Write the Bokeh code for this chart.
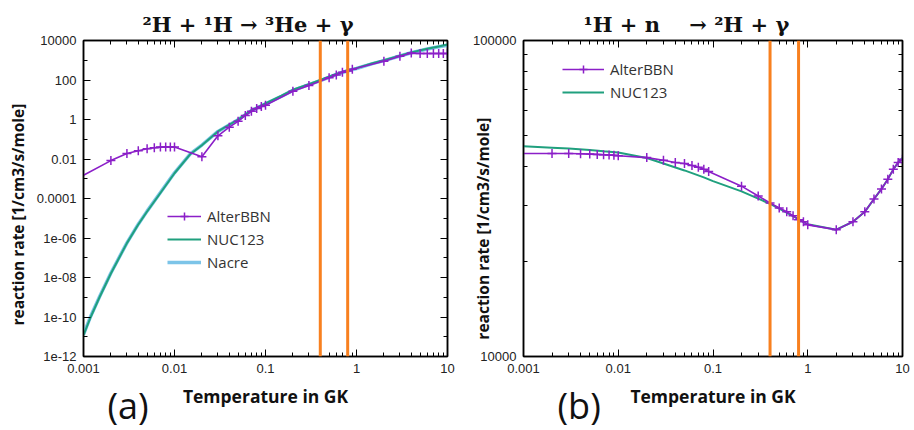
import numpy as np
from bokeh.plotting import figure
from bokeh.models import (LogAxis, FixedTicker, CustomJSTickFormatter, Span, Title,
                          Legend, LegendItem, Range1d)
from bokeh.layouts import row
from bokeh.embed import file_html
from bokeh.resources import INLINE

# ---------------- panel (a): 2H + 1H -> 3He + gamma ----------------
a_T_curve = [0.001, 0.0012, 0.0015, 0.002, 0.003, 0.004, 0.005, 0.007, 0.01, 0.015,
             0.02, 0.03, 0.05, 0.07, 0.1, 0.15, 0.2, 0.3, 0.4, 0.6, 0.8, 1.0, 1.5,
             2.0, 3.0, 4.0, 6.0, 8.0, 10.0]
a_nuc123 = [1.2e-11, 1.0e-10, 1.0e-9, 1.6e-8, 5.5e-7, 4.8e-6, 2.2e-5, 1.9e-4, 1.9e-3, 1.8e-2,
            5.0e-2, 0.25, 1.0, 2.9, 6.5, 16, 32, 62, 100, 200, 310, 400, 700,
            1000, 1700, 2500, 3800, 5000, 6200]
a_nacre = [1.3e-11, 1.1e-10, 1.05e-9, 1.7e-8, 5.7e-7, 5.0e-6, 2.3e-5, 2.0e-4, 2.0e-3, 1.85e-2,
           5.1e-2, 0.25, 0.98, 2.8, 6.2, 15, 30, 58, 94, 190, 295, 380, 670,
           960, 1650, 2400, 3700, 4800, 5800]
a_T_alter = [0.001, 0.002, 0.003, 0.004, 0.005, 0.006, 0.007, 0.008, 0.009, 0.01,
             0.02, 0.03, 0.04, 0.05, 0.06, 0.07, 0.08, 0.09, 0.1, 0.2, 0.3, 0.5,
             0.6, 0.7, 0.8, 0.9, 2.0, 3.0, 4.0, 5.0, 6.0, 7.0, 8.0, 9.0, 10.0]
a_alter = [0.0015, 0.0083, 0.019, 0.026, 0.033, 0.037, 0.040, 0.041, 0.041, 0.041,
           0.013, 0.15, 0.41, 0.81, 1.6, 2.6, 3.6, 4.6, 5.3, 27, 52, 130,
           180, 250, 285, 350, 890, 1580, 2300, 2200, 2200, 2200, 2200, 2200, 2200]

# ---------------- panel (b): 1H + n -> 2H + gamma ----------------
b_T_nuc = [0.001, 0.002, 0.003, 0.005, 0.007, 0.01, 0.02, 0.03, 0.05, 0.08, 0.1, 0.2,
           0.3, 0.4, 0.5, 0.7, 1.0, 2.0, 3.0, 4.0, 5.0, 6.0, 7.0, 8.0, 9.0, 10.0]
b_nuc123 = [46300, 45800, 45500, 45000, 44600, 44200, 42500, 40800, 38800, 36900, 35900, 33300,
            31600, 30400, 29400, 27800, 26200, 25200, 26700, 28700, 31500, 33900, 36400,
            39100, 41100, 42500]
b_T_alter = [0.001, 0.002, 0.003, 0.004, 0.005, 0.006, 0.007, 0.008, 0.009, 0.01,
             0.02, 0.03, 0.04, 0.05, 0.06, 0.07, 0.08, 0.09, 0.2, 0.3, 0.4, 0.5,
             0.6, 0.7, 0.8, 0.9, 1.0, 2.0, 3.0, 4.0, 5.0, 6.0, 7.0, 8.0, 9.0, 10.0]
b_alter = [43900, 43900, 43900, 43800, 43700, 43600, 43500, 43400, 43300, 43200,
           42600, 41800, 41100, 40800, 40200, 39700, 39100, 38500, 34600, 32200, 30600, 29500,
           28700, 27900, 27100, 26700, 26100, 25200, 26700, 28700, 31500, 33900, 36400,
           39100, 41100, 42100]

marker_T = [0.4, 0.8]

x_ticks = [0.001, 0.01, 0.1, 1, 10]
x_tick_labels = ["0.001", "0.01", "0.1", "1", "10"]
a_y_ticks = [1e-12, 1e-10, 1e-8, 1e-6, 1e-4, 1e-2, 1, 100, 1e4]
a_y_tick_labels = ["1e-12", "1e-10", "1e-08", "1e-06", "0.0001", "0.01", "1", "100", "10000"]
b_y_ticks = [1e4, 1e5]
b_y_tick_labels = ["10000", "100000"]

x_minor = [m * 10.0 ** e for e in range(-3, 1) for m in range(2, 10)]
a_y_minor = [10.0 ** e for e in range(-11, 4, 2)]
b_y_minor = [m * 1e4 for m in range(2, 10)]

PURPLE = "#8b1fc8"
GREEN = "#20a07e"
BLUE = "#7cc4e8"
ORANGE = "#f8801f"
NBSP = "\u00a0"


def fmt(ticks, labels):
    return CustomJSTickFormatter(args=dict(vals=ticks, labs=labels), code="""
let best = 0, bd = Infinity;
for (let i = 0; i < vals.length; i++) {
  const d = Math.abs(Math.log10(vals[i]) - Math.log10(tick));
  if (d < bd) { bd = d; best = i; }
}
return labs[best];
""")


def style_axis(ax, ticks, minor, labels):
    ax.ticker = FixedTicker(ticks=ticks, minor_ticks=minor)
    if labels is None:
        ax.formatter = CustomJSTickFormatter(code="return '';")
        ax.major_label_text_font_size = "0px"
        ax.major_label_standoff = 0
    else:
        ax.formatter = fmt(ticks, labels)
        ax.major_label_text_font_size = "13px"
        ax.major_label_standoff = 7
    ax.major_tick_in = 7
    ax.major_tick_out = 0
    ax.minor_tick_in = 4
    ax.minor_tick_out = 0
    ax.axis_line_color = "black"
    ax.axis_line_width = 1.5
    ax.major_tick_line_color = "black"
    ax.minor_tick_line_color = "black"
    ax.major_label_text_font = "Liberation Sans"
    ax.major_label_text_color = "#222222"


def label_axis(ax, text, standoff, size):
    ax.axis_label = text
    ax.axis_label_text_font = "Open Sans"
    ax.axis_label_text_font_style = "bold"
    ax.axis_label_text_color = "#111111"
    ax.axis_label_standoff = standoff
    ax.axis_label_text_font_size = size


def make_fig(width, yr, yt, ym, ytl, borders, title, title_off, panel, panel_off,
             ylabel, ylabel_standoff):
    left, right, top, bottom = borders
    p = figure(width=width, height=430, x_axis_type="log", y_axis_type="log",
               x_range=Range1d(0.001, 10), y_range=Range1d(*yr),
               output_backend="svg", toolbar_location=None,
               min_border_left=left, min_border_right=right,
               min_border_top=top, min_border_bottom=bottom)
    p.xgrid.visible = False
    p.ygrid.visible = False
    p.outline_line_color = "black"
    p.outline_line_width = 1.5
    p.background_fill_color = "white"
    p.border_fill_color = "white"
    xb = p.xaxis[0]
    yl = p.yaxis[0]
    style_axis(xb, x_ticks, x_minor, x_tick_labels)
    style_axis(yl, yt, ym, ytl)
    label_axis(xb, "Temperature in GK", 8, "17.5px")
    label_axis(yl, ylabel, ylabel_standoff, "15.5px")
    ax_top = LogAxis()
    style_axis(ax_top, x_ticks, x_minor, None)
    p.add_layout(ax_top, "above")
    ax_right = LogAxis()
    style_axis(ax_right, yt, ym, None)
    p.add_layout(ax_right, "right")
    for t in marker_T:
        p.add_layout(Span(location=t, dimension="height", line_color=ORANGE, line_width=3))
    p.title.text = title
    p.title.align = "left"
    p.title.offset = title_off
    p.title.standoff = 8
    p.title.text_font = "DejaVu Serif"
    p.title.text_font_style = "bold"
    p.title.text_font_size = "21px"
    p.title.text_color = "#111111"
    p.add_layout(Title(text=panel, align="left", offset=panel_off, vertical_align="top",
                       standoff=-60, text_font="Open Sans", text_font_style="normal",
                       text_font_size="36px", text_color="#111111"), "below")
    return p


def make_legend(items, loc, gw):
    return Legend(items=items, location=loc, label_text_font="Open Sans",
                  label_text_font_size="15px", label_text_color="#333333",
                  glyph_width=gw, glyph_height=20, label_standoff=6, spacing=3,
                  padding=2, margin=0, border_line_color=None, background_fill_alpha=0)


YLABEL = "reaction rate [1/cm3/s/mole]"

# ---------------- figure (a) ----------------
pa = make_fig(460, (1e-12, 1e4), a_y_ticks, a_y_minor, a_y_tick_labels, (83, 13, 35, 74),
              "²H + ¹H → ³He + γ", 59, "(a)", 24, YLABEL + NBSP * 8, 5)
r_nacre = pa.line(a_T_curve, a_nacre, line_color=BLUE, line_width=3.5)
r_nuc_a = pa.line(a_T_curve, a_nuc123, line_color=GREEN, line_width=2)
r_alt_a = pa.line(a_T_alter, a_alter, line_color=PURPLE, line_width=1.6)
r_pts_a = pa.scatter(a_T_alter[1:], a_alter[1:], marker="cross", size=9,
                     line_color=PURPLE, line_width=1.5)
pa.add_layout(make_legend([LegendItem(label="AlterBBN", renderers=[r_alt_a, r_pts_a]),
                           LegendItem(label="NUC123", renderers=[r_nuc_a]),
                           LegendItem(label="Nacre", renderers=[r_nacre])], (84, 84), 34))

# ---------------- figure (b) ----------------
pb = make_fig(454, (1e4, 1e5), b_y_ticks, b_y_minor, b_y_tick_labels, (63, 12, 40, 71),
              "¹H + n" + NBSP * 4 + "→" + NBSP + "²H + γ", 60, "(b)", 34,
              YLABEL + NBSP * 15, -24)
r_nuc_b = pb.line(b_T_nuc, b_nuc123, line_color=GREEN, line_width=2)
r_alt_b = pb.line(b_T_alter, b_alter, line_color=PURPLE, line_width=1.6)
r_pts_b = pb.scatter(b_T_alter[1:], b_alter[1:], marker="cross", size=9,
                     line_color=PURPLE, line_width=1.5)
pb.add_layout(make_legend([LegendItem(label="AlterBBN", renderers=[r_alt_b, r_pts_b]),
                           LegendItem(label="NUC123", renderers=[r_nuc_b])], (39, 254), 42))

layout = row(pa, pb)
open("out.html", "w").write(file_html(layout, INLINE, "chart"))
